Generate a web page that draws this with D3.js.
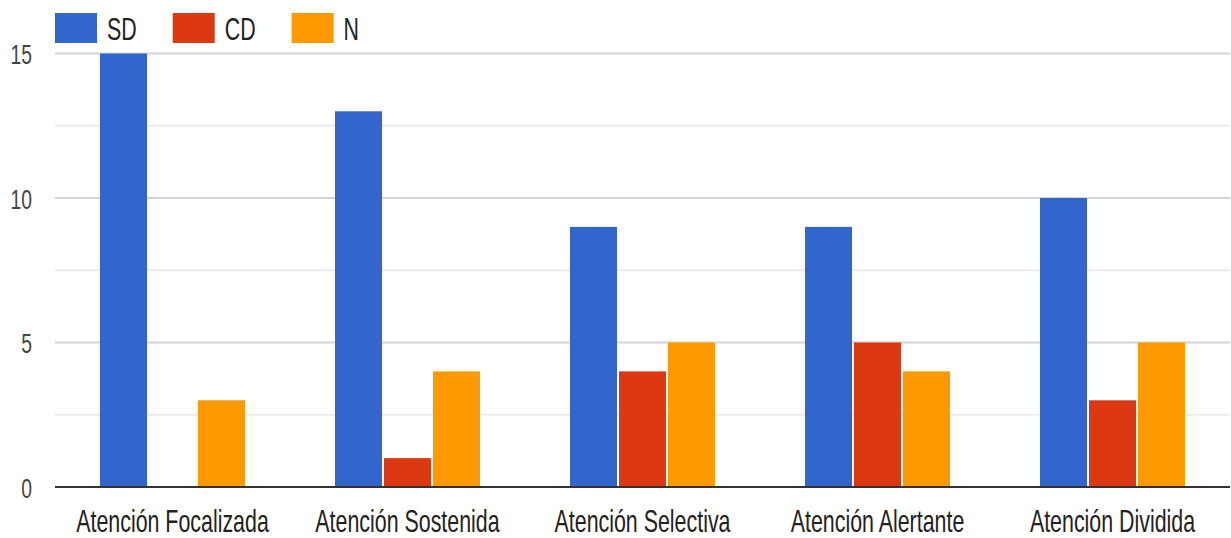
<!DOCTYPE html>
<html>
<head>
<meta charset="utf-8">
<script src="https://cdn.jsdelivr.net/npm/d3@7"></script>
<style>
  body { margin: 0; background: #fff; }
  text { font-family: "Liberation Sans", Arial, sans-serif; }
</style>
</head>
<body>
<div id="vis"></div>
<script>
const FRAME_WIDTH = 1231;
const FRAME_HEIGHT = 538;
const MARGINS = {left: 55, right: 1, top: 53.5, bottom: 51};

// data
const categories = ["Atención Focalizada", "Atención Sostenida", "Atención Selectiva", "Atención Alertante", "Atención Dividida"];
const seriesNames = ["SD", "CD", "N"];
const sdValues = [15, 13, 9, 9, 10];
const cdValues = [0, 1, 4, 5, 3];
const nValues = [3, 4, 5, 4, 5];
const yTicks = [0, 5, 10, 15];
const yMinorTicks = [2.5, 7.5, 12.5];

const COLORS = ["#3366cc", "#dc3912", "#ff9900"];
const SX = 0.69; // text is horizontally condensed in the reference

const table = categories.map((c, i) => ({
	cat: c,
	vals: [sdValues[i], cdValues[i], nValues[i]]
}));

const VIS_WIDTH = FRAME_WIDTH - MARGINS.left - MARGINS.right;
const VIS_HEIGHT = FRAME_HEIGHT - MARGINS.top - MARGINS.bottom;

const FRAME = d3.select("#vis")
	.append("svg")
		.attr("width", FRAME_WIDTH)
		.attr("height", FRAME_HEIGHT);

const X_SCALE = d3.scaleBand()
	.domain(categories)
	.range([MARGINS.left, MARGINS.left + VIS_WIDTH])
	.paddingInner(0.383)
	.paddingOuter(0.1915);

const X_SUB = d3.scaleBand()
	.domain(seriesNames)
	.range([0, X_SCALE.bandwidth()])
	.paddingInner(0.04);

const Y_SCALE = d3.scaleLinear()
	.domain([0, 15])
	.range([MARGINS.top + VIS_HEIGHT, MARGINS.top]);

// gridlines
FRAME.selectAll(".minor")
	.data(yMinorTicks)
	.enter()
	.append("line")
		.attr("x1", MARGINS.left)
		.attr("x2", MARGINS.left + VIS_WIDTH)
		.attr("y1", (d) => Y_SCALE(d))
		.attr("y2", (d) => Y_SCALE(d))
		.attr("stroke", "#ececec")
		.attr("stroke-width", 2);

FRAME.selectAll(".major")
	.data(yTicks.filter((d) => d > 0))
	.enter()
	.append("line")
		.attr("x1", MARGINS.left)
		.attr("x2", MARGINS.left + VIS_WIDTH)
		.attr("y1", (d) => Y_SCALE(d))
		.attr("y2", (d) => Y_SCALE(d))
		.attr("stroke", "#d4d4d4")
		.attr("stroke-width", 2);

// y labels
FRAME.selectAll(".ylab")
	.data(yTicks)
	.enter()
	.append("text")
		.attr("transform", (d) => "translate(32," + (Y_SCALE(d) + 10.5) + ") scale(" + SX + ",1)")
		.attr("text-anchor", "end")
		.attr("font-size", 28)
		.attr("fill", "#444")
		.text((d) => d);

// bars
const groups = FRAME.selectAll(".group")
	.data(table)
	.enter()
	.append("g")
		.attr("transform", (d) => "translate(" + X_SCALE(d.cat) + ",0)");

groups.selectAll("rect")
	.data((d) => d.vals.map((v, i) => ({key: seriesNames[i], v: v, i: i})))
	.enter()
	.append("rect")
		.attr("x", (d) => X_SUB(d.key))
		.attr("width", X_SUB.bandwidth())
		.attr("y", (d) => Y_SCALE(d.v))
		.attr("height", (d) => Y_SCALE(0) - Y_SCALE(d.v))
		.attr("fill", (d) => COLORS[d.i]);

// baseline
FRAME.append("line")
	.attr("x1", MARGINS.left)
	.attr("x2", MARGINS.left + VIS_WIDTH)
	.attr("y1", Y_SCALE(0))
	.attr("y2", Y_SCALE(0))
	.attr("stroke", "#333")
	.attr("stroke-width", 2);

// x labels
FRAME.selectAll(".xlab")
	.data(categories)
	.enter()
	.append("text")
		.attr("transform", (d) => "translate(" + (X_SCALE(d) + X_SCALE.bandwidth() / 2) + ",532) scale(" + SX + ",1)")
		.attr("text-anchor", "middle")
		.attr("font-size", 31)
		.attr("fill", "#222")
		.text((d) => d);

// legend
let lx = 55;
seriesNames.forEach((name, i) => {
	FRAME.append("rect")
		.attr("x", lx)
		.attr("y", 13)
		.attr("width", 42)
		.attr("height", 30)
		.attr("fill", COLORS[i]);
	const t = FRAME.append("text")
		.attr("transform", "translate(" + (lx + 52) + ",40) scale(" + SX + ",1)")
		.attr("font-size", 31)
		.attr("fill", "#222")
		.text(name);
	const w = t.node().getComputedTextLength() * SX;
	lx = lx + 52 + w + 36;
});
</script>
</body>
</html>
